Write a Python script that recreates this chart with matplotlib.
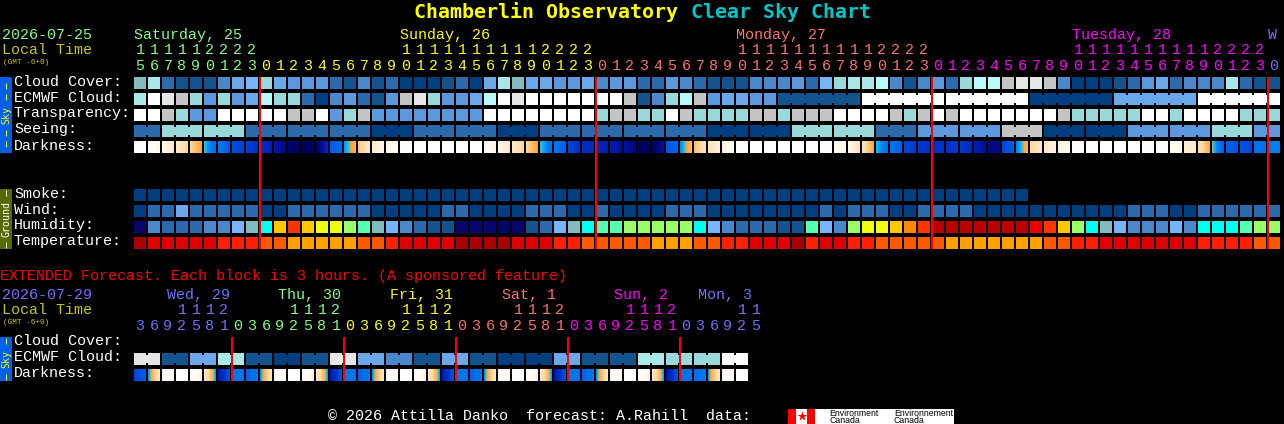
import numpy as np
from matplotlib import pyplot as plt
from matplotlib.colors import LinearSegmentedColormap

# cloud style scale shared by most rows, 0 = deep blue, 13 = white
sky_palette = ['#003f7f', '#13548f', '#2c6aae', '#4a88cc', '#5b98dd', '#6aa8ea', '#78b4fa',
               '#82bdbd', '#99d9d9', '#a8e8e8', '#b8f8f8', '#c4c4c4', '#e6e6e6', '#ffffff']
humidity_palette = ['#05056b', '#13548f', '#2c6aae', '#4a88cc', '#78b4fa', '#82bdbd', '#00ffee', '#55ffb0',
                    '#99ff66', '#eeff11', '#ffc800', '#ff8800', '#ff3300', '#ee0000', '#bb0000']
temperature_palette = ['#a80000', '#e00000', '#ff2000', '#ff5a00', '#ff9f00']

cloud_cover = [7, 9, 2, 1, 1, 1, 3, 5, 6, 8, 5, 4, 4, 4, 2, 1, 3, 1, 2, 0, 0, 0, 1, 2, 0, 5, 9, 7, 5, 5, 4, 4, 5,
               3, 4, 4, 2, 2, 4, 3, 2, 1, 1, 1, 3, 3, 3, 4, 2, 6, 8, 9, 9, 10, 3, 1, 3, 4, 2, 8, 10, 10, 11, 12, 12,
               11, 3, 0, 0, 0, 1, 2, 4, 5, 2, 3, 3, 3, 9, 2, 1, 1]
ecmwf_hourly = [9, 13, 12, 11, 8, 4, 8, 4, 5, 10, 8, 8, 2, 0, 3, 4, 2, 1, 4, 11, 12, 8, 4, 4, 5, 10, 13, 12,
                13, 13, 13, 13, 13, 13, 13, 11, 1, 3, 8, 10, 11, 4, 5, 5, 4, 4]
ecmwf_6h = [1, 13, 13, 0, 5, 13]
transparency = [13, 13, 11, 8, 4, 4, 13, 13, 13, 13, 13, 11, 11, 13, 4, 8, 11, 4, 4, 4, 4, 4, 4, 4, 4, 13, 13, 13,
                13, 13, 13, 13, 13, 8, 11, 11, 8, 8, 13, 11, 8, 8, 8, 8, 11, 11, 8, 11, 11, 11, 13, 13, 13, 13, 11,
                8, 11, 13, 11, 13, 13, 13, 13, 13, 13, 13, 11, 8, 8, 8, 8, 8, 13, 13, 8, 13, 13, 13, 13, 8, 8, 8]
seeing_3h = [2, 8, 8, 2, 2, 2, 0, 2, 2, 0, 2, 2, 2, 2, 0, 0, 8, 8, 2, 4, 4, 11, 0, 0, 4, 4, 8, 4]
smoke = [0] * 64
wind = [0, 2, 2, 5, 2, 2, 2, 2, 2, 0, 0, 2, 2, 2, 2, 2, 2, 0, 0, 0, 0, 0, 2, 2, 0, 0, 0, 0, 2, 2, 2, 0, 0, 2, 0, 0,
        0, 0, 2, 2, 2, 0, 0, 0, 0, 0, 0, 0, 0, 2, 0, 2, 2, 2, 0, 0, 2, 2, 2, 2, 0, 0, 0, 0, 0, 0, 0, 0, 0, 0, 0,
        2, 2, 2, 0, 0, 2, 2, 2, 2, 2, 2]
humidity = [0, 3, 2, 2, 2, 3, 3, 4, 5, 6, 10, 12, 10, 9, 9, 8, 7, 5, 4, 3, 2, 1, 1, 0, 0, 0, 0, 0, 1, 2, 4, 5, 6,
            7, 7, 8, 8, 8, 8, 8, 6, 4, 3, 2, 2, 2, 1, 1, 7, 4, 3, 8, 9, 9, 10, 11, 12, 14, 14, 14, 14, 14, 14, 14,
            13, 12, 10, 8, 6, 5, 4, 3, 3, 3, 4, 3, 6, 6, 6, 7, 8, 8]
temperature = [0, 1, 1, 1, 1, 1, 2, 2, 2, 3, 3, 4, 4, 4, 4, 4, 3, 3, 2, 1, 1, 1, 1, 0, 0, 0, 0, 1, 1, 1, 2, 2, 3,
               3, 3, 3, 3, 4, 4, 4, 3, 3, 2, 2, 1, 1, 1, 0, 2, 1, 1, 2, 2, 3, 3, 3, 3, 3, 4, 4, 4, 4, 4, 4, 4, 3, 3,
               2, 2, 1, 1, 1, 1, 1, 1, 1, 2, 2, 2, 2, 3, 3]
# darkness read at the left and right side of every block
dark_start = [0, .2, 1, 2, 3, 4.4, 5.1, 6.4, 6.7, 7, 7.7, 8.7, 9, 9, 6.1, 4.8, 3.4, 2, 1, .4, 0,
              0, 0, 0, 0, .3, 1, 2, 3, 4.4, 5.2, 6.5, 7, 7.2, 7.5, 8, 9, 9, 6.2, 4.9, 3.6, 2.4, 1.5, .3,
              0, 0, 0, 0, 0, 0, .3, 1, 2.5, 4.5, 5.2, 6.5, 6.8, 7, 7, 6.8, 7.5, 8.4, 6.5, 5, 3, 2, 1.5, .3,
              0, 0, 0, 0, 0, .1, .5, 1.5, 2.5, 4.3, 6, 6.2, 5.5, 5]
dark_stop = [0, 1, 2, 3, 4.2, 5.6, 6.2, 6.6, 7, 7.5, 8.4, 9, 9, 7.2, 5.6, 3.8, 2, 1, .4, 0, 0,
             0, 0, 0, 0, 1, 2, 3, 4.2, 5.4, 6, 7, 7.2, 7.5, 8, 8.5, 9, 8, 5.8, 3.6, 2.4, 1.5, .3, 0,
             0, 0, 0, 0, 0, .3, 1, 2.5, 4.1, 5.5, 6, 6.8, 7, 7, 6.8, 7.2, 8, 8.4, 6, 3.8, 2, 1.5, .7, 0,
             0, 0, 0, 0, .1, .5, 1, 2, 4, 6, 6.2, 6.5, 5.5, 5]

ext_ecmwf_6h = [12, 1, 5, 9, 1, 0, 1, 12, 5, 3, 1, 5, 1, 0, 0, 5, 1, 1, 9, 8, 8, 13]
ext_dark_start = [6.5, 4.8, 1, 0, 0, 2, 7.6, 5.2, 6, 4.8, 1, 0, 0, 2, 7.6, 5.2, 6, 4.8, 1, 0, 0, 2, 7.6, 5.2, 6, 4.8,
                  1, 0, 0, 2, 7.8, 5.2, 6, 4.8, 1, 0, 0, 2, 7.8, 5.4, 5.6, 4.7, 1, 0]
ext_dark_stop = [6, 2.2, 0, 0, 1.5, 4.7, 6.2, 5.4, 5.2, 2.2, 0, 0, 1.5, 4.7, 6.2, 5.4, 5.2, 2.2, 0, 0, 1.5, 4.7, 6.2,
                 5.4, 5.2, 2.2, 0, 0, 1.5, 4.7, 6.2, 5.4, 5.2, 2.2, 0, 0, 1.5, 4.7, 6.2, 5.4, 5.2, 2.2, 0, 0]

day_colors = {'green': '#80ff80', 'yellow': '#ffff00', 'pink': '#ff7070', 'magenta': '#ff00ff', 'blue': '#7070ff'}
main_days = [('Saturday, 25', 0, 'green'), ('Sunday, 26', 19, 'yellow'), ('Monday, 27', 43, 'pink'),
             ('Tuesday, 28', 67, 'magenta'), ('W', 81, 'blue')]
ext_days = [('Wed, 29', 2.35, 'blue'), ('Thu, 30', 10.3, 'green'), ('Fri, 31', 18.3, 'yellow'),
            ('Sat, 1', 26.3, 'pink'), ('Sun, 2', 34.3, 'magenta'), ('Mon, 3', 40.3, 'blue')]
main_labels = ['Cloud Cover:', 'ECMWF Cloud:', 'Transparency:', 'Seeing:', 'Darkness:']
ground_labels = ['Smoke:', 'Wind:', 'Humidity:', 'Temperature:']
ext_labels = ['Cloud Cover:', 'ECMWF Cloud:', 'Darkness:']
main_day_names = ['green'] * 9 + ['yellow'] * 24 + ['pink'] * 24 + ['magenta'] * 24 + ['blue']
ext_day_names = ['blue'] * 7 + ['green'] * 8 + ['yellow'] * 8 + ['pink'] * 8 + ['magenta'] * 8 + ['blue'] * 6

LEFT, PITCH, SIZE = 134, 14, 12
MONO = 'Liberation Mono'

dark_cmap = LinearSegmentedColormap.from_list('darkness', [
    (0, '#ffffff'), (.1, '#fff8ec'), (.2, '#ffe8c8'), (.3, '#ffd8a0'), (.42, '#ffa030'), (.45, '#00c0ff'),
    (.5, '#0080f0'), (.6, '#0060e8'), (.7, '#0030c8'), (.8, '#0010a0'), (.9, '#000060'), (1, '#000030')])

fig = plt.figure(figsize=(12.84, 4.24), dpi=100, facecolor='black')
ax = fig.add_axes([0, 0, 1, 1], facecolor='black')


def col_left(i):
    return LEFT + PITCH * np.asarray(i)


def blocks(values, palette, top):
    colors = [palette[v] for v in values]
    ax.bar(col_left(np.arange(len(values))), SIZE, bottom=top, width=SIZE, align='edge', color=colors,
           linewidth=0, antialiased=False)


def necks(first, count, color_idx, palette, top):
    # small bridge between the blocks that belong to one forecast step
    for k in range(count - 1):
        ax.bar(col_left(first + k) + SIZE, SIZE - 4, bottom=top + 2, width=PITCH - SIZE, align='edge',
               color=palette[color_idx], linewidth=0, antialiased=False)


def dark_row(starts, stops, top):
    for i, (a, b) in enumerate(zip(starts, stops)):
        left = col_left(i)
        shade = np.linspace(a, b, SIZE)[None, :]
        ax.imshow(shade, cmap=dark_cmap, vmin=0, vmax=10, aspect='auto', interpolation='nearest',
                  extent=(left, left + SIZE, top + SIZE, top))


def label(x, y, s, color='white', size=10.8, **kw):
    # y is the text baseline
    ax.text(x, y, s, color=color, fontsize=size, family=MONO, va='baseline', **kw)


def side_bar(top, bottom, color, word, word_color):
    ax.bar(0, bottom - top, bottom=top, width=12, align='edge', color=color, linewidth=0)
    mid = (top + bottom) / 2
    half = len(word) * 2.9
    ax.text(6, mid, word, color=word_color, fontsize=7.2, family='DejaVu Sans Mono', rotation=90,
            ha='center', va='center')
    for off in np.arange(9, (bottom - top) / 2 - half, 11):
        for sign in (-1, 1):
            dash = mid + sign * (half + off)
            ax.vlines(6, dash - 3, dash + 3, color=word_color, linewidth=0.7)


def hour_digits(hours, colors, y_tens, y_ones):
    for i, (h, c) in enumerate(zip(hours, colors)):
        x = col_left(i) + SIZE / 2
        if h >= 10:
            label(x, y_tens, str(h // 10), c, ha='center')
        label(x, y_ones, str(h % 10), c, ha='center')


# title
ax.text(414, 18, 'Chamberlin Observatory', color='#ffff00', fontsize=14.4, family='DejaVu Sans Mono',
        weight='bold', va='baseline')
ax.text(691, 18, 'Clear Sky Chart', color='#00c8c8', fontsize=14.4, family='DejaVu Sans Mono',
        weight='bold', va='baseline')

# header of the hourly part
label(2, 39, '2026-07-25', day_colors['green'])
label(2, 54, 'Local Time', '#c8c800')
label(3, 64, '(GMT -6+0)', '#c8c800', size=5.6)
for text, col, name in main_days:
    label(col_left(col), 39, text, day_colors[name])

n_main = len(cloud_cover)
main_hours = [(15 + i) % 24 for i in range(n_main)]
hour_digits(main_hours, [day_colors[n] for n in main_day_names], 54.5, 70)

# sky rows
blocks(cloud_cover, sky_palette, 77)
ecmwf = ecmwf_hourly + list(np.repeat(ecmwf_6h, 6))
blocks(ecmwf, sky_palette, 93)
for g, v in enumerate(ecmwf_6h):
    necks(len(ecmwf_hourly) + 6 * g, 6, v, sky_palette, 93)
blocks(transparency, sky_palette, 109)
seeing = [seeing_3h[(i + 1) // 3] for i in range(n_main)]
blocks(seeing, sky_palette, 125)
for g, v in enumerate(seeing_3h):
    first = max(3 * g - 1, 0)
    count = min(3 * g + 2, n_main) - first
    necks(first, count, v, sky_palette, 125)
dark_row(dark_start, dark_stop, 141)

# ground rows
blocks(smoke, sky_palette, 189)
blocks(wind, sky_palette, 205)
blocks(humidity, humidity_palette, 221)
blocks(temperature, temperature_palette, 237)

for k, text in enumerate(main_labels):
    label(14, 85.5 + 16 * k, text)
for k, text in enumerate(ground_labels):
    label(14, 197.5 + 16 * k, text)

side_bar(77, 153, '#0060e8', 'Sky', '#ffff00')
side_bar(189, 249, '#556b00', 'Ground', '#ffffff')

# midnight markers
ax.vlines(col_left(np.arange(9, n_main, 24)), 77, 249, color='#ff0000', linewidth=1.44, antialiased=False)

# extended forecast
label(0, 280, 'EXTENDED Forecast. Each block is 3 hours. (A sponsored feature)', '#ff0000')
label(2, 299, '2026-07-29', day_colors['blue'])
label(2, 314, 'Local Time', '#c8c800')
label(3, 324, '(GMT -6+0)', '#c8c800', size=5.6)
for text, col, name in ext_days:
    label(col_left(col), 299, text, day_colors[name])

ext_hours = [(3 + 3 * i) % 24 for i in range(len(ext_day_names))]
hour_digits(ext_hours, [day_colors[n] for n in ext_day_names], 314.5, 330)

blocks(list(np.repeat(ext_ecmwf_6h, 2)), sky_palette, 353)
for g, v in enumerate(ext_ecmwf_6h):
    necks(2 * g, 2, v, sky_palette, 353)
dark_row(ext_dark_start, ext_dark_stop, 369)

for k, text in enumerate(ext_labels):
    label(14, 345 + 16 * k, text)
side_bar(337, 381, '#0060e8', 'Sky', '#ffff00')
ax.vlines(col_left(np.arange(7, len(ext_dark_start), 8)), 337, 381, color='#ff0000', linewidth=1.44,
          antialiased=False)

# footer with the Environment Canada strip
label(328, 420, '\u00a9 2026 Attilla Danko  forecast: A.Rahill  data:')
ax.bar(788, 15, bottom=409, width=166, align='edge', color='white', linewidth=0)
ax.bar([788, 807], 15, bottom=409, width=8, align='edge', color='#ff0000', linewidth=0)
ax.scatter([801.5], [416], marker='*', s=55, color='#ff0000', linewidths=0)
for word_x, word in [(829, 'Environment'), (894, 'Environnement')]:
    ax.text(word_x, 415.5, word, color='black', fontsize=6.3, family='Liberation Sans', va='baseline')
    ax.text(word_x, 423, 'Canada', color='black', fontsize=6.3, family='Liberation Sans', va='baseline')

ax.set_xlim(0, 1284)
ax.set_ylim(424, 0)
ax.axis('off')
fig.savefig('out.png', dpi=100, facecolor='black')
